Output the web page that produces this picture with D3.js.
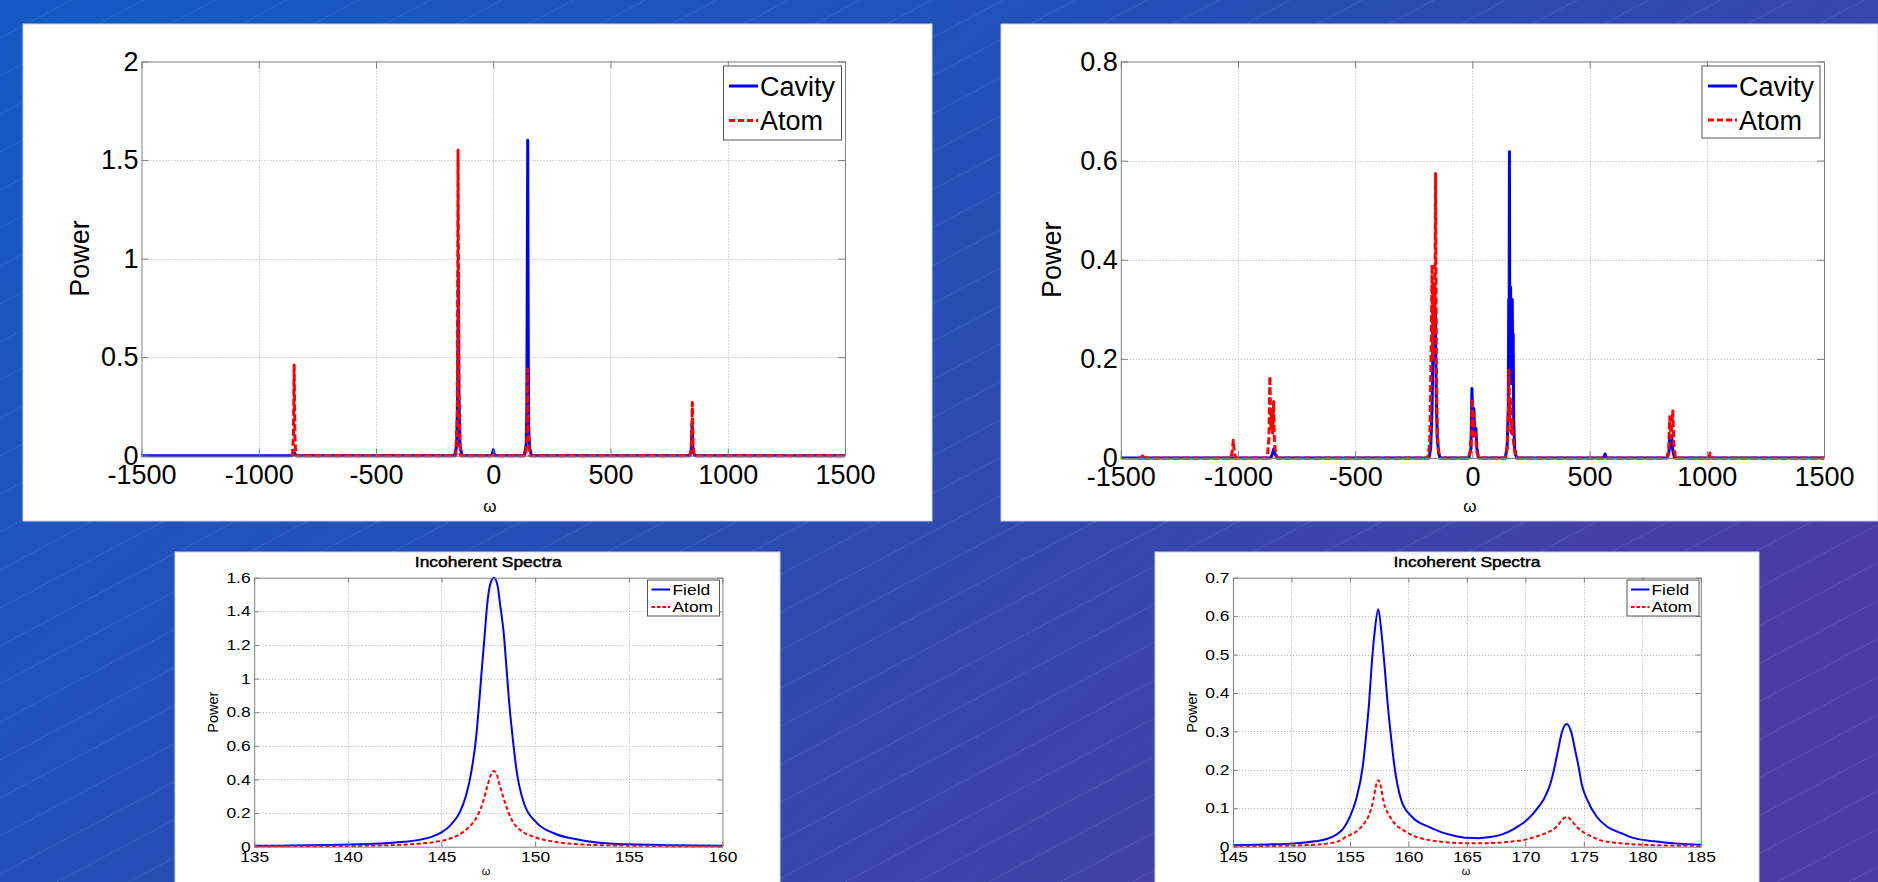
<!DOCTYPE html>
<html>
<head>
<meta charset="utf-8">
<script src="https://cdn.jsdelivr.net/npm/d3@7"></script>
<style>
body { margin: 0; overflow: hidden; }
svg { display: block; }
text { font-family: "Liberation Sans", Arial, sans-serif; fill: #000; }
</style>
</head>
<body>
<svg id="chart" width="1878" height="882"></svg>
<script>
// ---- data ----
// top left: full spectrum, case 1  [omega, power]
const cavityFull1 = [
  [-1500, 0], [-860, 0], [-852, 0.006], [-848, 0.015], [-844, 0.006], [-836, 0],
  [-165, 0], [-156, 0.05], [-152, 0.3], [-149, 0.93], [-146, 0.3], [-142, 0.05], [-133, 0],
  [-8, 0], [-3, 0.012], [0, 0.03], [3, 0.012], [8, 0],
  [132, 0], [140, 0.05], [143, 0.2], [145, 0.85], [147, 1.6], [149, 0.67], [151, 0.15], [155, 0.04], [163, 0],
  [836, 0], [844, 0.02], [848, 0.16], [852, 0.02], [860, 0], [1500, 0]
]
const atomFull1 = [
  [-856, 0], [-852, 0.1], [-849, 0.46], [-846, 0.1], [-842, 0],
  [-160, 0], [-153, 0.2], [-150, 1.55], [-147, 0.3], [-140, 0],
  [138, 0], [144, 0.1], [147, 0.44], [150, 0.1], [156, 0],
  [840, 0], [845, 0.05], [849, 0.27], [852, 0.05], [857, 0], [1500, 0]
]
// top right: full spectrum, case 2
const cavityFull2 = [
  [-1500, 0], [-860, 0], [-852, 0.01], [-848, 0.018], [-843, 0.01], [-835, 0],
  [-185, 0], [-178, 0.02], [-172, 0.1], [-168, 0.25], [-165, 0.3], [-162, 0.2], [-158, 0.3],
  [-155, 0.15], [-150, 0.04], [-144, 0.01], [-138, 0],
  [-15, 0], [-6, 0.02], [-2, 0.14], [2, 0.06], [6, 0.1], [10, 0.05], [15, 0.06], [19, 0.02], [26, 0],
  [140, 0], [148, 0.02], [153, 0.1], [155, 0.32], [156.5, 0.15], [158, 0.618], [159.5, 0.2],
  [161, 0.32], [163, 0.345], [164.5, 0.15], [166, 0.32], [168, 0.2], [170, 0.32], [172, 0.2],
  [174, 0.25], [176, 0.08], [180, 0.02], [188, 0],
  [560, 0], [566, 0.008], [572, 0],
  [830, 0], [838, 0.01], [842, 0.04], [846, 0.02], [850, 0.045], [855, 0.015], [862, 0], [1500, 0]
]
const atomFull2 = [
  [-1425, 0], [-1410, 0], [-1405, 0.008], [-1400, 0],
  [-1030, 0], [-1024, 0.015], [-1020, 0.036], [-1016, 0.012], [-1010, 0],
  [-875, 0], [-868, 0.04], [-864, 0.165], [-860, 0.06], [-856, 0.1], [-852, 0.05], [-848, 0.114],
  [-845, 0.04], [-840, 0.01], [-832, 0],
  [-190, 0], [-182, 0.03], [-178, 0.15], [-175, 0.25], [-172, 0.39], [-169, 0.2], [-166, 0.35],
  [-163, 0.25], [-160, 0.3], [-157, 0.574], [-154, 0.2], [-150, 0.05], [-143, 0.01], [-136, 0],
  [-20, 0], [-10, 0.01], [-4, 0.05], [-1, 0.12], [2, 0.06], [5, 0.09], [9, 0.04], [13, 0.05], [18, 0.015], [26, 0],
  [140, 0], [148, 0.02], [153, 0.07], [156, 0.177], [159, 0.08], [162, 0.12], [166, 0.05],
  [170, 0.08], [174, 0.04], [178, 0.02], [185, 0],
  [830, 0], [838, 0.02], [842, 0.083], [846, 0.04], [850, 0.06], [855, 0.095], [859, 0.03], [866, 0],
  [1008, 0], [1014, 0.01], [1018, 0.004], [1025, 0], [1500, 0]
]
// bottom left: incoherent spectra zoom, case 1
const field1 = [
  [135, 0.005], [137, 0.007], [139, 0.01], [141, 0.016], [142, 0.021], [143, 0.029], [144, 0.045],
  [144.5, 0.06], [145, 0.085], [145.5, 0.13], [146, 0.21], [146.3, 0.3], [146.6, 0.45], [146.85, 0.65],
  [147.0, 0.84], [147.15, 1.05], [147.3, 1.25], [147.45, 1.45], [147.6, 1.56], [147.8, 1.6],
  [148.0, 1.55], [148.12, 1.45], [148.34, 1.25], [148.48, 1.05], [148.62, 0.85], [148.8, 0.65],
  [149.0, 0.46], [149.4, 0.26], [150.1, 0.14], [151.0, 0.08], [152.4, 0.04], [153.8, 0.02],
  [155, 0.014], [157, 0.009], [160, 0.005]
]
const atom1 = [
  [135, 0.002], [140, 0.004], [142, 0.008], [143, 0.012], [144, 0.02], [145, 0.035], [145.5, 0.05],
  [146, 0.075], [146.4, 0.11], [146.8, 0.16], [147.2, 0.26], [147.45, 0.36], [147.65, 0.43], [147.8, 0.45],
  [147.95, 0.43], [148.12, 0.36], [148.4, 0.26], [148.75, 0.16], [149.2, 0.1], [149.9, 0.06],
  [151.0, 0.03], [152.7, 0.012], [155, 0.006], [160, 0.002]
]
// bottom right: incoherent spectra zoom, case 2
const field2 = [
  [145, 0.004], [148, 0.006], [150, 0.008], [152, 0.014], [153, 0.02], [154, 0.035], [154.5, 0.05],
  [155, 0.078], [155.5, 0.12], [156.1, 0.21], [156.4, 0.295], [156.65, 0.38], [156.85, 0.47],
  [157.1, 0.555], [157.42, 0.618], [157.7, 0.555], [157.96, 0.47], [158.2, 0.38], [158.48, 0.295],
  [158.8, 0.21], [159.4, 0.12], [160.3, 0.078], [161.7, 0.052], [162.8, 0.038], [164, 0.028],
  [165, 0.023], [166, 0.022], [167, 0.025], [168, 0.032], [169, 0.046], [170, 0.066], [170.6, 0.084],
  [171.1, 0.103], [171.6, 0.125], [172.15, 0.165], [172.5, 0.208], [172.8, 0.252], [173.1, 0.295],
  [173.53, 0.319], [173.95, 0.295], [174.25, 0.252], [174.55, 0.208], [174.8, 0.165], [175.3, 0.121],
  [176.1, 0.078], [177, 0.052], [178.2, 0.035], [179, 0.025], [181, 0.014], [183, 0.008], [185, 0.005]
]
const atom2 = [
  [145, 0.001], [150, 0.003], [152, 0.005], [153, 0.008], [154, 0.014], [154.7, 0.026], [155.7, 0.043],
  [156.2, 0.06], [156.57, 0.078], [157.0, 0.121], [157.2, 0.155], [157.42, 0.173], [157.65, 0.155],
  [157.85, 0.121], [158.42, 0.078], [158.9, 0.058], [159.56, 0.043], [160.3, 0.03], [161.3, 0.02],
  [162.5, 0.014], [163.5, 0.011], [165, 0.009], [166.5, 0.009], [168, 0.011], [169, 0.014],
  [170.1, 0.019], [171, 0.027], [171.8, 0.036], [172.67, 0.052], [173.1, 0.068], [173.53, 0.078],
  [173.95, 0.068], [174.38, 0.052], [175.1, 0.035], [175.7, 0.026], [176.4, 0.017], [177.5, 0.011],
  [178.9, 0.007], [181, 0.004], [185, 0.002]
]

// ticks
const wideTicksX = [-1500, -1000, -500, 0, 500, 1000, 1500]
const ticksY1 = [0, 0.5, 1, 1.5, 2]
const ticksY2 = [0, 0.2, 0.4, 0.6, 0.8]
const zoomTicksX1 = [135, 140, 145, 150, 155, 160]
const zoomTicksY1 = [0, 0.2, 0.4, 0.6, 0.8, 1, 1.2, 1.4, 1.6]
const zoomTicksX2 = [145, 150, 155, 160, 165, 170, 175, 180, 185]
const zoomTicksY2 = [0, 0.1, 0.2, 0.3, 0.4, 0.5, 0.6, 0.7]
const wideLegend = ["Cavity", "Atom"]
const zoomLegend = ["Field", "Atom"]

const W = 1878, H = 882
const svg = d3.select("#chart")

// ---- background ----
const defs = svg.append("defs")
const grad = defs.append("linearGradient").attr("id", "bg")
  .attr("x1", "0").attr("y1", "0").attr("x2", "1").attr("y2", "0.6")
grad.append("stop").attr("offset", "0").attr("stop-color", "#145bc4")
grad.append("stop").attr("offset", "0.5").attr("stop-color", "#264fb4")
grad.append("stop").attr("offset", "1").attr("stop-color", "#4a3ea4")
svg.append("rect").attr("width", W).attr("height", H).attr("fill", "url(#bg)")

const stripes = svg.append("g")
  .attr("stroke", "rgba(200,220,255,0.13)").attr("stroke-width", 1).attr("stroke-dasharray", "3,1")
d3.range(0, 56).forEach(k => {
  const y0 = k * 38
  stripes.append("line").attr("x1", 0).attr("y1", y0).attr("x2", W).attr("y2", y0 - W * 0.53)
})

// ---- one panel ----
function drawPanel(p) {
  const g = svg.append("g")
  g.append("rect")
    .attr("x", p.box[0]).attr("y", p.box[1]).attr("width", p.box[2]).attr("height", p.box[3])
    .attr("fill", "#fff").attr("stroke", "#c8d4f0").attr("stroke-width", 1)

  const x = d3.scaleLinear().domain([p.xTicks[0], p.xTicks[p.xTicks.length - 1]]).range([p.left, p.right])
  const y = d3.scaleLinear().domain([p.yTicks[0], p.yTicks[p.yTicks.length - 1]]).range([p.bottom, p.top])

  // dotted grid
  const grid = g.append("g").attr("stroke", "#b4b4b4").attr("stroke-width", 1).attr("stroke-dasharray", "1,2")
  grid.selectAll(".gx").data(p.xTicks.slice(1, -1)).join("line")
    .attr("x1", d => Math.round(x(d)) + 0.5).attr("x2", d => Math.round(x(d)) + 0.5)
    .attr("y1", p.top).attr("y2", p.bottom)
  grid.selectAll(".gy").data(p.yTicks.slice(1, -1)).join("line")
    .attr("y1", d => Math.round(y(d)) + 0.5).attr("y2", d => Math.round(y(d)) + 0.5)
    .attr("x1", p.left).attr("x2", p.right)

  // series
  const line = d3.line().x(d => x(d[0])).y(d => y(d[1])).curve(p.curve)
  g.append("path").datum(p.blue).attr("d", line)
    .attr("fill", "none").attr("stroke", "#0000ff").attr("stroke-width", p.lw)
    .attr("stroke-linejoin", "round")
  g.append("path").datum(p.red).attr("d", line)
    .attr("fill", "none").attr("stroke", "#ff0000").attr("stroke-width", p.lw)
    .attr("stroke-dasharray", p.dash).attr("stroke-linejoin", "round")

  // axes (ticks inward on all four sides)
  const fmt = d => String(d)
  const styleAxis = a => {
    a.select(".domain").attr("stroke", "#808080")
    a.selectAll(".tick line").attr("stroke", "#808080")
    a.selectAll("text").attr("font-family", "Liberation Sans, Arial, sans-serif")
      .attr("font-size", p.fs).attr("fill", "#000")
  }
  const ax = g.append("g").attr("transform", `translate(0,${p.bottom})`)
    .call(d3.axisBottom(x).tickValues(p.xTicks).tickFormat(fmt).tickSizeInner(-p.tick).tickSizeOuter(0).tickPadding(p.padX))
  styleAxis(ax)
  const ay = g.append("g").attr("transform", `translate(${p.left},0)`)
    .call(d3.axisLeft(y).tickValues(p.yTicks).tickFormat(fmt).tickSizeInner(-p.tick).tickSizeOuter(0).tickPadding(p.padY))
  styleAxis(ay)
  const at = g.append("g").attr("transform", `translate(0,${p.top})`)
    .call(d3.axisTop(x).tickValues(p.xTicks).tickFormat("").tickSizeInner(-p.tick).tickSizeOuter(0))
  styleAxis(at)
  const ar = g.append("g").attr("transform", `translate(${p.right},0)`)
    .call(d3.axisRight(y).tickValues(p.yTicks).tickFormat("").tickSizeInner(-p.tick).tickSizeOuter(0))
  styleAxis(ar)
  if (p.sx !== 1) {
    ax.selectAll("text").attr("transform", `scale(${p.sx},1)`)
    ay.selectAll("text").attr("transform", `scale(${p.sx},1)`)
  }

  // labels
  g.append("text").attr("transform", `translate(${p.powerX},${(p.top + p.bottom) / 2}) rotate(-90)`)
    .attr("text-anchor", "middle").attr("dy", "0.35em").attr("font-size", p.fs).text("Power")
  g.append("text").attr("transform", `translate(${p.omegaPos[0]},${p.omegaPos[1]})`)
    .attr("text-anchor", "middle").attr("dy", "0.35em").attr("font-size", p.omegaFs).text("ω")
  if (p.title) {
    g.append("text").attr("transform", `translate(${(p.left + p.right) / 2},${p.titleY}) scale(${p.sx},1)`)
      .attr("text-anchor", "middle").attr("dy", "0.35em").attr("font-size", p.fs)
      .attr("stroke", "#000").attr("stroke-width", 0.45).text(p.title)
  }

  // legend
  const L = p.legend
  g.append("rect").attr("x", L.x).attr("y", L.y).attr("width", L.w).attr("height", L.h)
    .attr("fill", "#fff").attr("stroke", "#555").attr("stroke-width", 1)
  p.legendNames.forEach((name, i) => {
    const ry = L.rows[i]
    g.append("line").attr("x1", L.lx[0]).attr("x2", L.lx[1]).attr("y1", ry).attr("y2", ry)
      .attr("stroke", i === 0 ? "#0000ff" : "#ff0000").attr("stroke-width", p.lw)
      .attr("stroke-dasharray", i === 0 ? null : p.legDash)
    g.append("text").attr("transform", `translate(${L.tx},${ry}) scale(${p.sx},1)`)
      .attr("dy", "0.36em").attr("font-size", p.fs).text(name)
  })
}

drawPanel({
  box: [23, 24, 909, 497], left: 141.5, right: 845, top: 61.5, bottom: 455.7,
  xTicks: wideTicksX, yTicks: ticksY1, blue: cavityFull1, red: atomFull1,
  curve: d3.curveLinear, lw: 3, dash: "7,3", legDash: "6,3", fs: 27, sx: 1, tick: 7, padX: 9, padY: 3,
  powerX: 80, omegaPos: [490, 506], omegaFs: 17,
  legend: { x: 723.5, y: 66, w: 118, h: 74, rows: [86, 120.5], lx: [729, 758], tx: 760 },
  legendNames: wideLegend
})
drawPanel({
  box: [1001, 24, 877, 497], left: 1120.8, right: 1824, top: 61.5, bottom: 458,
  xTicks: wideTicksX, yTicks: ticksY2, blue: cavityFull2, red: atomFull2,
  curve: d3.curveLinear, lw: 3, dash: "7,3", legDash: "6,3", fs: 27, sx: 1, tick: 7, padX: 9, padY: 3,
  powerX: 1052, omegaPos: [1470, 506], omegaFs: 17,
  legend: { x: 1702, y: 66, w: 118, h: 72, rows: [86, 120], lx: [1708, 1737], tx: 1739 },
  legendNames: wideLegend
})
drawPanel({
  box: [175, 552, 605, 331], left: 254.2, right: 722.4, top: 577.7, bottom: 846.7,
  xTicks: zoomTicksX1, yTicks: zoomTicksY1, blue: field1, red: atom1,
  curve: d3.curveMonotoneX, lw: 2, dash: "4,2.5", legDash: "3.5,2", fs: 14.5, sx: 1.2, tick: 5, padX: 5, padY: 3,
  powerX: 213, omegaPos: [486, 871.5], omegaFs: 11, title: "Incoherent Spectra", titleY: 561.5,
  legend: { x: 647.5, y: 580, w: 72, h: 36, rows: [589.5, 607], lx: [651.5, 670], tx: 672.5 },
  legendNames: zoomLegend
})
drawPanel({
  box: [1155, 552, 604, 331], left: 1233, right: 1700.8, top: 577.7, bottom: 846.7,
  xTicks: zoomTicksX2, yTicks: zoomTicksY2, blue: field2, red: atom2,
  curve: d3.curveMonotoneX, lw: 2, dash: "4,2.5", legDash: "3.5,2", fs: 14.5, sx: 1.2, tick: 5, padX: 5, padY: 3,
  powerX: 1192, omegaPos: [1466, 871.5], omegaFs: 11, title: "Incoherent Spectra", titleY: 561.5,
  legend: { x: 1627, y: 580, w: 72, h: 36, rows: [589.5, 607], lx: [1631, 1649.5], tx: 1651.5 },
  legendNames: zoomLegend
})
</script>
</body>
</html>
